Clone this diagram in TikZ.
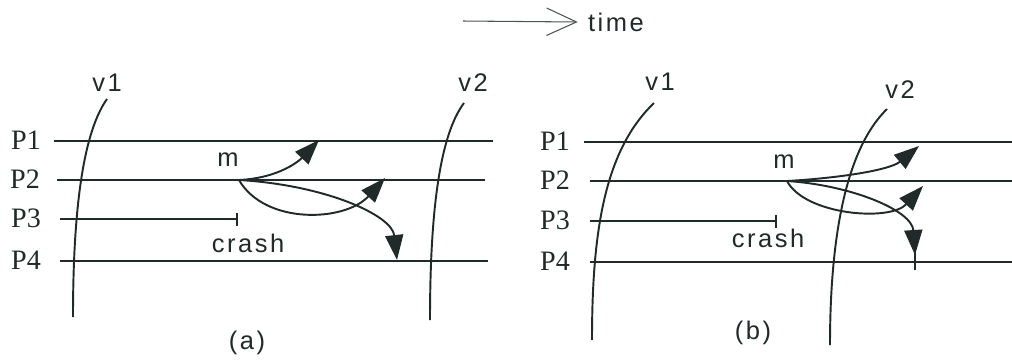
\documentclass[tikz,border=0pt]{standalone}
\usepackage{fontspec}
\setmainfont{Liberation Serif}
\newfontfamily\labelfont[LetterSpace=10]{Liberation Sans}
\usetikzlibrary{arrows.meta}
\definecolor{inkdark}{RGB}{32,42,40}

\begin{document}
\begin{tikzpicture}[x=0.02cm, y=-0.02cm,
  every node/.style={text=inkdark, inner sep=0pt},
  proc/.style={font=\fontsize{16}{18}\selectfont},
  lbl/.style={font=\labelfont\fontsize{14.5}{17}\selectfont},
  line/.style={draw=inkdark, line width=1.1pt},
  msg/.style={line, -{Triangle[length=0.5cm,width=0.36cm]}},
  timearr/.style={draw=inkdark!80, line width=0.6pt,
    -{Straight Barb[length=0.6cm,width=0.55cm]}}
]
\useasboundingbox (0,0) rectangle (1012,360);

%% time axis
\node[lbl] (time) at (616,22) {time};
\coordinate (tstart) at (463,21);
\draw[timearr] (tstart) -- ([xshift=-0.2cm]time.west);

%% ---------- (a) ----------
\node[proc] (a1) at (26,140) {P1};
\node[proc] (a2) at (25,179) {P2};
\node[proc] (a3) at (26,218) {P3};
\node[proc] (a4) at (26,260) {P4};

\coordinate (a1s) at (54,141);  \coordinate (a1e) at (493,141);
\coordinate (a2s) at (57,180);  \coordinate (a2e) at (485,180);
\coordinate (a3s) at (60,219);  \coordinate (a3e) at (237,219);
\coordinate (a4s) at (60,261);  \coordinate (a4e) at (488,261);

\draw[line] (a1s) -- (a1e);
\draw[line] (a2s) -- (a2e);
\draw[line] (a3s) -- (a3e);
\draw[line] (a4s) -- (a4e);
\draw[line] ([yshift=0.13cm]a3e) -- ([yshift=-0.13cm]a3e);

%% views
\node[lbl] (v1a) at (107,83) {v1};
\node[lbl] (v2a) at (473,83) {v2};
\draw[line] (107,99) .. controls (85,130) and (73,200) .. (73,317);
\draw[line] (464,103) .. controls (440,135) and (430,210) .. (430,320);

%% message m
\node[lbl] (ma) at (228,160) {m};
\coordinate (sa) at (239,180);
\coordinate (ra1) at (319,140);
\coordinate (ra2) at (385,178);
\coordinate (ra4) at (397,260);
\draw[msg] (sa) .. controls (280,178) and (300,160) .. (ra1);
\draw[msg] (sa) .. controls (265,225) and (345,222) .. (ra2);
\draw[msg] (sa) .. controls (325,185) and (392,215) .. (ra4);

\node[lbl] (crasha) at (248,243) {crash};
\node[lbl] (capa) at (247,343) {(a)};

%% ---------- (b) ----------
\node[proc] (b1) at (555,141) {P1};
\node[proc] (b2) at (555,180) {P2};
\node[proc] (b3) at (555,220) {P3};
\node[proc] (b4) at (555,261) {P4};

\coordinate (b1s) at (584,142);  \coordinate (b1e) at (1012,142);
\coordinate (b2s) at (590,181);  \coordinate (b2e) at (1012,181);
\coordinate (b3s) at (590,221);  \coordinate (b3e) at (776,221);
\coordinate (b4s) at (590,262);  \coordinate (b4e) at (1012,262);

\draw[line] (b1s) -- (b1e);
\draw[line] (b2s) -- (b2e);
\draw[line] (b3s) -- (b3e);
\draw[line] (b4s) -- (b4e);
\draw[line] ([yshift=0.13cm]b3e) -- ([yshift=-0.13cm]b3e);

%% views
\node[lbl] (v1b) at (660,82) {v1};
\node[lbl] (v2b) at (900,90) {v2};
\draw[line] (654,103) .. controls (605,150) and (592,230) .. (592,340);
\draw[line] (887,109) .. controls (845,150) and (830,240) .. (830,345);

%% message m
\node[lbl] (mb) at (784,162) {m};
\coordinate (sb) at (787,181);
\coordinate (rb1) at (919,146);
\coordinate (rb2) at (923,186);
\coordinate (rb4) at (915,255);
\coordinate (rb4e) at (915,270);
\draw[msg] (sb) .. controls (840,178) and (890,170) .. (rb1);
\draw[msg] (sb) .. controls (805,215) and (890,222) .. (rb2);
\draw[msg] (sb) .. controls (850,185) and (912,210) .. (rb4);
\draw[line] ([yshift=0.1cm]rb4) -- (rb4e);

\node[lbl] (crashb) at (768,238) {crash};
\node[lbl] (capb) at (753,333) {(b)};

\end{tikzpicture}
\end{document}
